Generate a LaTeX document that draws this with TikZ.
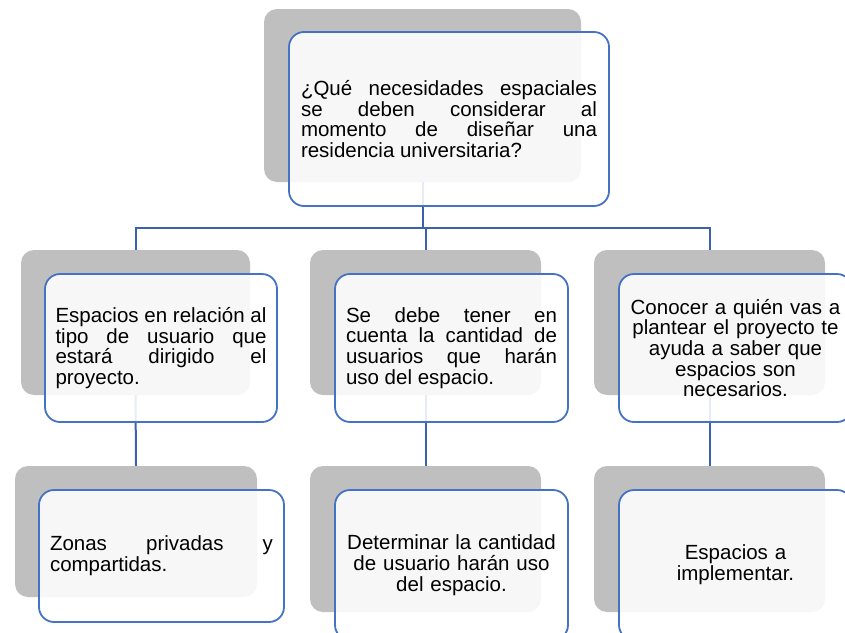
\documentclass[tikz,border=0pt]{standalone}
\usepackage{fontspec}
\setmainfont{Liberation Sans}
\usepackage{xcolor}
\usepackage{tikz}
\usetikzlibrary{
  positioning,
  calc,
}

\definecolor{shadegray}{HTML}{BFBFBF}
\definecolor{cardblue}{HTML}{4472C4}
\definecolor{linkblue}{HTML}{3B62AE}
\newcommand{\cardfont}{\fontsize{20.5}{20.7}\selectfont}

\begin{document}
\begin{tikzpicture}[
  x=1pt, y=-1pt,
  shade/.style={fill=shadegray, draw=none, rounded corners=13pt},
  card/.style={draw=cardblue, line width=1.8pt, fill=white, fill opacity=0.88,
               text opacity=1, rounded corners=15pt, inner sep=0pt,
               font=\cardfont},
  link/.style={draw=linkblue, line width=2pt},
]
\useasboundingbox (0,0) rectangle (845,632);
\clip (0,0) rectangle (845,632);

% grey back plates
\foreach \n/\x/\y/\w/\h in
  {qs/422.5/95.5/317/173,
   as/135.5/322.5/229/145, bs/425.5/322.5/231/145, cs/709.5/322.5/231/145,
   ds/136/531.5/242/131, es/425.5/539/231/146, fs/709.5/539/231/146}{
  \node[shade, minimum width=\w pt, minimum height=\h pt] (\n) at (\x,\y) {};
}

% connectors
\coordinate (bar) at (422.5,228);
\draw[link] (qs.south) -- (bar);
\draw[link] (as.north) |- (bar) -| (cs.north);
\draw[link] (bar -| bs.north) -- (bs.north);
\draw[link] (as.south) -- (ds.north);
\draw[link] (bs.south) -- (es.north);
\draw[link] (cs.south) -- (fs.north);

% front cards
\node[card, minimum width=320pt, minimum height=174pt, text width=296pt,
      align=justify] (q) at (449,119)
  {¿Qué necesidades espaciales\linebreak se deben considerar al\linebreak
   momento de diseñar una\linebreak residencia universitaria?};

\node[card, minimum width=232pt, minimum height=148pt, text width=211pt,
      align=justify] (a) at (161,348)
  {Espacios en relación al\linebreak tipo de usuario que\linebreak
   estará dirigido el\linebreak proyecto.};
\node[card, minimum width=233pt, minimum height=148pt, text width=211pt,
      align=justify] (b) at (451.5,348)
  {Se debe tener en\linebreak cuenta la cantidad de\linebreak
   usuarios que harán\linebreak uso del espacio.};
\node[card, minimum width=233pt, minimum height=148pt, text width=215pt,
      align=center] (c) at (735.5,348)
  {Conocer a quién vas a\\ plantear el proyecto te\\ ayuda a saber que\\
   espacios son\\ necesarios.};

\node[card, minimum width=245pt, minimum height=132pt, text width=223pt,
      align=justify] (d) at (161.5,556)
  {Zonas privadas y\linebreak compartidas.};
\node[card, minimum width=233pt, minimum height=150pt, text width=215pt,
      align=center] (e) at (451.5,565)
  {Determinar la cantidad\\ de usuario harán uso\\ del espacio.};
\node[card, minimum width=233pt, minimum height=150pt, text width=215pt,
      align=center] (f) at (735.5,565)
  {Espacios a\\ implementar.};

\end{tikzpicture}
\end{document}
